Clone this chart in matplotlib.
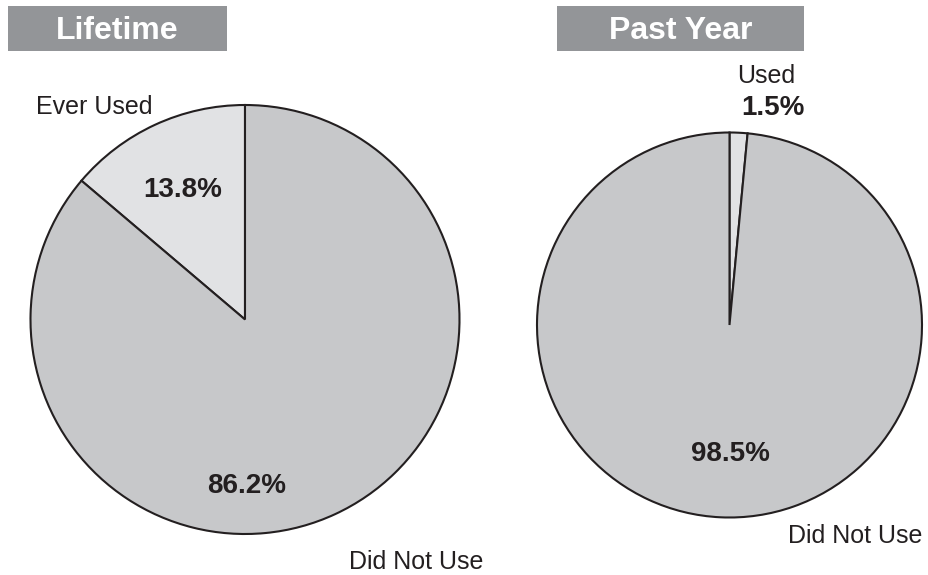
import matplotlib
matplotlib.use("Agg")
import matplotlib.pyplot as plt
from matplotlib.patches import Rectangle

plt.rcParams['font.family'] = ['Liberation Sans', 'DejaVu Sans']

# Data
panel_titles = ["Lifetime", "Past Year"]
lifetime_labels = ["Ever Used", "Did Not Use"]
lifetime_values = [13.8, 86.2]
pastyear_labels = ["Used", "Did Not Use"]
pastyear_values = [1.5, 98.5]

W, H = 929, 575
fig = plt.figure(figsize=(W / 100, H / 100), dpi=100)
ax = fig.add_axes([0, 0, 1, 1])
ax.set_xlim(0, W)
ax.set_ylim(0, H)
ax.set_aspect('equal')
ax.axis('off')

def Y(y):
    return H - y

small_col = "#e1e2e4"
big_col = "#c7c8ca"
edge = "#231f20"
txt = "#231f20"
box_col = "#939598"

wp = dict(edgecolor=edge, linewidth=1.5)

# Left pie
ax.pie(lifetime_values, colors=[small_col, big_col], startangle=90,
       counterclock=True, center=(245, Y(319.5)), radius=214.5,
       wedgeprops=wp, frame=True)
# Right pie
ax.pie(pastyear_values, colors=[small_col, big_col], startangle=90,
       counterclock=False, center=(729.5, Y(325)), radius=192.5,
       wedgeprops=wp, frame=True)
ax.set_xlim(0, W)
ax.set_ylim(0, H)
ax.axis('off')

# Title boxes
ax.add_patch(Rectangle((8, Y(50.5)), 219.5, 44.5, facecolor=box_col, edgecolor='none'))
ax.add_patch(Rectangle((557, Y(50.5)), 247.5, 44.5, facecolor=box_col, edgecolor='none'))
ax.text(117.5, Y(39), panel_titles[0], color='white', fontsize=23, fontweight='bold',
        ha='center', va='baseline')
ax.text(680.5, Y(39), panel_titles[1], color='white', fontsize=23, fontweight='bold',
        ha='center', va='baseline')

def pct(v):
    return f"{v:.1f}%"

# Lifetime labels
ax.text(94, Y(114), lifetime_labels[0], color=txt, fontsize=18, ha='center', va='baseline')
ax.text(183, Y(197), pct(lifetime_values[0]), color=txt, fontsize=20, fontweight='bold',
        ha='center', va='baseline')
ax.text(247, Y(493), pct(lifetime_values[1]), color=txt, fontsize=20, fontweight='bold',
        ha='center', va='baseline')
ax.text(416, Y(569), lifetime_labels[1], color=txt, fontsize=18, ha='center', va='baseline')

# Past year labels
ax.text(766, Y(83), pastyear_labels[0], color=txt, fontsize=18, ha='center', va='baseline')
ax.text(773, Y(115), pct(pastyear_values[0]), color=txt, fontsize=20, fontweight='bold',
        ha='center', va='baseline')
ax.text(730, Y(461), pct(pastyear_values[1]), color=txt, fontsize=20, fontweight='bold',
        ha='center', va='baseline')
ax.text(855, Y(543), pastyear_labels[1], color=txt, fontsize=18, ha='center', va='baseline')

fig.savefig("out.png", dpi=100, facecolor='white')
